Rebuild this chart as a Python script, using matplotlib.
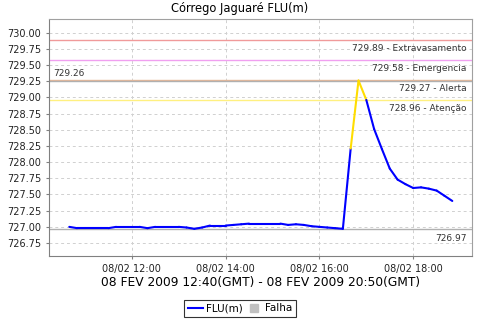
import matplotlib
matplotlib.use("Agg")
import matplotlib.pyplot as plt
import matplotlib.dates as mdates
from matplotlib.lines import Line2D
import pandas as pd

plt.rcParams['font.family'] = ['DejaVu Sans']

# ---- data ----
start_time = "2009-02-08 10:40"
step = "10min"
levels = [727.00, 726.98, 726.98, 726.98, 726.98, 726.98,
          727.00, 727.00, 727.00, 727.00, 726.98, 727.00,
          727.00, 727.00, 727.00, 726.99, 726.97, 726.99,
          727.02, 727.02, 727.02, 727.03, 727.04, 727.05,
          727.05, 727.05, 727.05, 727.05, 727.03, 727.04,
          727.03, 727.01, 727.00, 726.99, 726.98, 726.97,
          728.21, 729.26, 728.96, 728.51, 728.20, 727.90,
          727.73, 727.66, 727.60, 727.61, 727.59, 727.56,
          727.48, 727.40]
threshold_names = ["Extravasamento", "Emergencia", "Alerta", "Atenção"]
threshold_values = [729.89, 729.58, 729.27, 728.96]
threshold_colors = ["#f09a9a", "#f0a0f0", "#e8b898", "#fff080"]
max_value = 729.26
min_value = 726.97
title = "Córrego Jaguaré FLU(m)"
xlabel = "08 FEV 2009 12:40(GMT) - 08 FEV 2009 20:50(GMT)"
yticks = [726.75, 727.00, 727.25, 727.50, 727.75, 728.00, 728.25,
          728.50, 728.75, 729.00, 729.25, 729.50, 729.75, 730.00]
xtick_times = ["2009-02-08 12:00", "2009-02-08 14:00",
               "2009-02-08 16:00", "2009-02-08 18:00"]

times = pd.date_range(start_time, periods=len(levels), freq=step)

fig = plt.figure(figsize=(4.8, 3.2), dpi=100)
ax = fig.add_axes([0.102, 0.2, 0.881, 0.7406])

ax.set_xlim(pd.Timestamp("2009-02-08 10:14"), pd.Timestamp("2009-02-08 19:15"))
ax.set_ylim(726.55, 730.21)

ax.grid(True, color="#d0d0d0", linestyle=(0, (3, 3)), linewidth=0.7)
ax.set_axisbelow(True)

# threshold lines
for name, val, col in zip(threshold_names, threshold_values, threshold_colors):
    ax.axhline(val, color=col, linewidth=1.0, zorder=2)
    ax.annotate(f"{val:.2f} - {name}", xy=(1, val), xycoords=("axes fraction", "data"),
                xytext=(-4, -3), textcoords="offset points", ha="right", va="top",
                fontsize=6.5, color="#333333")

# min/max lines
ax.axhline(max_value, color="#b0b0b0", linewidth=1.0, zorder=2)
ax.annotate(f"{max_value:.2f}", xy=(0, max_value), xycoords=("axes fraction", "data"),
            xytext=(3, 2), textcoords="offset points", ha="left", va="bottom",
            fontsize=6.5, color="#333333")
ax.axhline(min_value, color="#b0b0b0", linewidth=1.0, zorder=2)
ax.annotate(f"{min_value:.2f}", xy=(1, min_value), xycoords=("axes fraction", "data"),
            xytext=(-4, -4), textcoords="offset points", ha="right", va="top",
            fontsize=6.5, color="#333333")

# series with coloured segments
att = threshold_values[-1]
for i in range(len(levels) - 1):
    seg_max = max(levels[i], levels[i + 1])
    col = "#ffdd00" if seg_max > att else "#0000ff"
    ax.plot(times[i:i + 2], levels[i:i + 2], color=col, linewidth=1.5,
            solid_capstyle="round", zorder=3)

ax.set_yticks(yticks)
ax.yaxis.set_major_formatter(matplotlib.ticker.FormatStrFormatter("%.2f"))
ax.set_xticks([pd.Timestamp(t) for t in xtick_times])
ax.xaxis.set_major_formatter(mdates.DateFormatter("%d/%m %H:%M"))
ax.tick_params(axis="both", labelsize=7, length=2, color="#808080", labelcolor="#222222")

for s in ax.spines.values():
    s.set_color("#a0a0a0")
ax.spines["left"].set_color("#808080")
ax.spines["bottom"].set_color("#808080")

fig.text(0.5, 0.972, title, fontsize=8.3, ha="center", va="center")
ax.set_xlabel(xlabel, fontsize=8.8, labelpad=2)

handles = [Line2D([0], [0], color="#0000ff", linewidth=1.5),
           Line2D([0], [0], color="#c0c0c0", marker="s", linestyle="none", markersize=6)]
leg = fig.legend(handles, ["FLU(m)", "Falha"], loc="lower center",
                 bbox_to_anchor=(0.5, 0.0), ncol=2, fontsize=7.5, frameon=True,
                 fancybox=False, handlelength=1.5, handletextpad=0.3, columnspacing=0.3,
                 borderpad=0.35, borderaxespad=0.3)
leg.get_frame().set_edgecolor("black")
leg.get_frame().set_linewidth(0.8)

fig.savefig("out.png", dpi=100)
